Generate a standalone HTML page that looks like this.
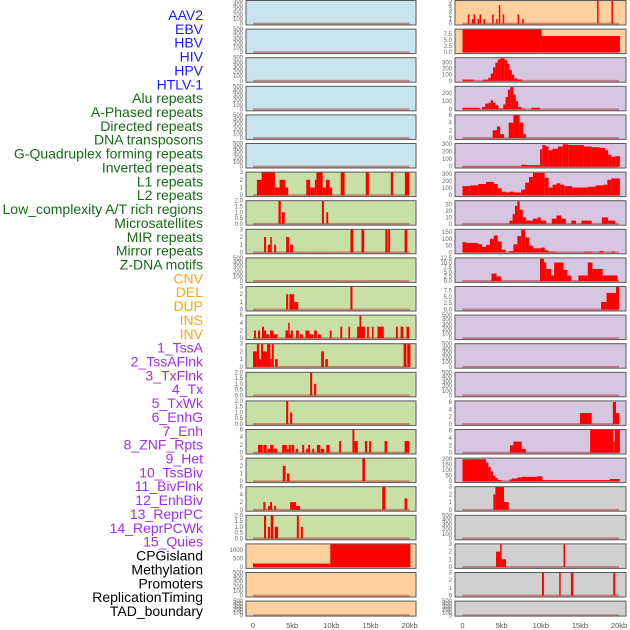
<!DOCTYPE html>
<html><head><meta charset="utf-8"><style>
body{margin:0;background:#fff;width:630px;height:630px;overflow:hidden}
svg{display:block;font-family:"Liberation Sans",sans-serif}
</style></head><body>
<svg id="chart" width="630" height="630" viewBox="0 0 630 630"></svg>
<script>
const labels=["AAV2","EBV","HBV","HIV","HPV","HTLV-1","Alu repeats","A-Phased repeats","Directed repeats","DNA transposons","G-Quadruplex forming repeats","Inverted repeats","L1 repeats","L2 repeats","Low_complexity A/T rich regions","Microsatellites","MIR repeats","Mirror repeats","Z-DNA motifs","CNV","DEL","DUP","INS","INV","1_TssA","2_TssAFlnk","3_TxFlnk","4_Tx","5_TxWk","6_EnhG","7_Enh","8_ZNF_Rpts","9_Het","10_TssBiv","11_BivFlnk","12_EnhBiv","13_ReprPC","14_ReprPCWk","15_Quies","CPGisland","Methylation","Promoters","ReplicationTiming","TAD_boundary"];
const labelGroups=[0,0,0,0,0,0,1,1,1,1,1,1,1,1,1,1,1,1,1,2,2,2,2,2,3,3,3,3,3,3,3,3,3,3,3,3,3,3,3,4,4,4,4,4];
const xTicks=[0,5,10,15,20];
const xTickLabels=["0","5kb","10kb","15kb","20kb"];
const alu=[[0.5,1.1,2],[1.1,2.8,3],[2.8,3.4,1],[3.4,4.1,2],[4.1,4.5,1],[6.8,7.3,2],[7.3,7.9,1],[7.9,8.1,2],[8.1,8.9,3],[8.9,9.3,1],[9.3,9.8,2],[9.8,10.1,1],[11.2,11.7,3],[14.4,14.8,3],[17.6,17.9,3],[19.4,19.95,3]];
const aphased=[[3.25,3.55,2],[3.7,4.05,1],[8.8,9.06,2],[9.36,9.6,1]];
const directed=[[1.41,1.67,2],[1.9,2.2,1],[2.2,2.4,2],[2.7,2.95,1],[4.23,4.6,2],[4.74,5.1,1],[12.44,12.8,3],[13.85,14.2,3],[16.9,17.2,3],[17.27,17.5,3],[19.36,19.7,3]];
const gquad=[[4.23,4.5,2],[4.65,5.25,2],[5.25,5.77,1],[12.44,12.7,3]];
const inverted=[[0.13,0.38,2],[0.64,0.9,2],[1.15,1.41,3],[1.41,1.67,2],[1.67,2.09,1],[2.18,2.6,2],[2.6,3.12,1],[4.15,4.49,2],[4.49,4.66,4],[4.66,4.83,1],[4.83,5.09,2],[5.5,5.85,2],[6.0,6.37,1],[6.7,7.2,2],[7.2,7.7,1],[7.8,8.16,2],[8.3,8.67,1],[9.8,10.04,2],[11.15,11.4,3],[12.18,12.4,3],[13.3,13.6,3],[13.6,13.8,6],[13.8,14.3,3],[14.57,14.8,3],[15.2,15.4,3],[15.9,16.7,3],[18.25,18.5,3],[18.85,19.2,3],[19.6,19.96,3]];
const l1=[[0,0.5,2],[0.5,0.77,3],[0.77,1.03,1],[1.03,1.28,3],[1.28,1.8,2],[1.8,2.22,3],[2.22,2.4,1],[2.4,2.65,3],[2.82,3.16,1],[8.7,9.06,2],[9.23,9.57,1],[19.23,19.6,3],[19.7,20.1,3]];
const l2=[[7.3,7.56,2],[7.8,8.08,1]];
const lowcx=[[4.23,4.5,2],[4.74,5.0,1]];
const microsat=[[0.64,1.24,2],[1.32,1.75,2],[1.84,2.18,1],[2.18,2.6,2],[2.6,3.12,1],[3.72,4.32,2],[4.32,4.57,1],[4.57,4.83,2],[4.91,5.26,2],[5.43,5.77,1],[6.28,6.54,2],[6.8,7.05,1],[7.05,7.3,2],[7.56,7.82,1],[8.16,8.6,2],[8.67,9.1,1],[9.36,9.79,2],[11.0,11.24,3],[12.7,12.95,6],[12.95,13.38,3],[14.3,14.57,3],[14.83,15.08,3],[16.8,17.14,3],[19.36,19.96,3]];
const mir=[[3.8,4.15,2],[4.32,4.66,1],[13.97,14.3,3]];
const mirror=[[1.32,1.58,2],[1.92,2.18,1],[2.18,2.44,2],[2.7,2.95,1],[4.74,5.5,2],[5.5,6.0,1],[16.5,16.9,6],[19.36,19.7,3]];
const zdna=[[1.41,1.67,2],[1.92,2.18,1],[2.26,2.6,2],[2.78,3.2,1],[5.6,5.85,2],[6.1,6.37,1]];
const cnv=[[0,9.87,200],[9.87,20.1,1340]];
const ins=[[0.68,0.8,2],[1.2,1.32,1],[1.41,1.53,2],[1.92,2.04,1],[2.17,2.29,2],[2.68,2.8,1],[3.79,3.91,2],[4.3,4.42,1],[4.64,4.76,4],[5.14,5.26,2],[7.04,7.16,2],[7.62,7.74,1],[17.19,17.31,5],[19.02,19.14,5]];
const inv=[[0,10.1,9.2],[10.1,20.1,6.6]];
const tssa=[[0,1.4,20],[2.6,3.3,20],[3.3,3.6,50],[3.6,3.9,120],[3.9,4.2,220],[4.2,4.5,300],[4.5,4.8,350],[4.8,5.4,370],[5.4,5.7,340],[5.7,6.0,280],[6.0,6.3,180],[6.3,6.6,100],[6.6,7.0,40],[7.0,7.6,20]];
const tssaflnk=[[0,2.2,20],[2.5,2.9,30],[2.9,3.3,70],[3.3,3.6,80],[3.6,3.9,110],[3.9,4.2,80],[4.2,4.6,50],[4.6,5.2,10],[5.2,5.5,60],[5.5,5.8,150],[5.8,6.1,240],[6.1,6.5,270],[6.5,6.8,180],[6.8,7.1,100],[7.1,7.5,30],[7.5,8.0,10],[8.8,9.9,20]];
const txflnk=[[3.85,4.4,2],[4.4,4.8,3],[4.8,5.3,1],[5.9,6.5,4],[6.5,7.3,6],[7.3,7.75,4],[7.75,8.1,1]];
const tx=[[0,7.5,3],[7.5,8.2,25],[8.2,9.9,20],[9.9,10.2,230],[10.2,10.6,290],[10.6,11.0,270],[11.0,11.5,220],[11.5,12.2,240],[12.2,12.8,270],[12.8,13.5,300],[13.5,15.5,290],[15.5,16.5,270],[16.5,17.5,260],[17.5,18.2,250],[18.2,18.6,220],[18.6,19.0,160],[19.0,19.5,130],[19.5,20.1,140]];
const txwk=[[0,1,130],[1,2,140],[2,3,160],[3,4,190],[4,4.5,160],[4.5,5,100],[5,5.5,50],[5.5,6,40],[6,6.5,50],[6.5,7.5,40],[7.5,8,80],[8,8.5,180],[8.5,9,260],[9,10.5,320],[10.5,11,250],[11,11.5,110],[11.5,12,150],[12,12.5,170],[12.5,13,150],[13,14,130],[14,16,110],[16,17,120],[17,18,140],[18,18.5,150],[18.5,19,220],[19,20.1,240]];
const enhg=[[6.0,6.4,5],[6.4,6.7,15],[6.7,7.0,28],[7.0,7.3,35],[7.3,7.7,22],[7.7,8.1,10],[8.1,9.0,5],[9.0,9.6,8],[9.6,10.0,10],[10.0,10.7,5],[11.4,12.0,8],[12.0,12.6,13],[12.6,13.2,8],[13.9,14.5,5],[15.2,16.5,5],[17.8,18.6,10],[18.6,19.5,5]];
const enh=[[0,0.5,75],[0.5,2,70],[2,2.5,60],[2.5,3,40],[3,3.5,55],[3.5,4,100],[4,4.5,125],[4.5,5,80],[5,5.5,20],[6,6.5,10],[6.5,7,60],[7,7.5,120],[7.5,8,165],[8,8.5,110],[8.5,9,50],[9,10,30],[10,10.5,35],[10.5,11,15],[11,12,5],[15.5,16.5,5],[17.5,18,10],[19,19.5,5]];
const znf=[[3.7,4.35,4],[4.35,4.9,2.5],[9.9,10.4,12],[10.4,10.7,10],[10.7,11.3,6.5],[11.3,11.7,3],[11.7,12.9,10],[12.9,13.4,6],[13.4,13.9,3],[14.8,16,3],[16,16.6,10],[16.6,17.9,6.5],[17.9,19.8,3]];
const het=[[17.7,18.4,3],[18.4,19.6,6.5],[19.6,20,9]];
const reprpc=[[15,16.5,3],[19.2,19.6,6],[19.6,20,3]];
const reprpcwk=[[6.06,6.5,2],[6.5,7.55,3],[7.55,8.1,1],[16.3,19.25,6.3],[19.25,19.45,3],[19.45,20.1,6.3]];
const quies=[[0,3,200],[3,3.3,170],[3.3,3.6,130],[3.6,3.9,90],[3.9,4.2,50],[4.2,4.5,30],[4.5,5,10],[6,6.3,15],[6.3,7,25],[7,7.5,35],[7.5,9.5,40],[9.5,10.2,45],[10.2,18.8,10],[18.8,20.1,20]];
const cpg=[[3.94,4.2,2],[4.2,5.3,3],[5.3,5.9,1]];
const promoters=[[4.28,4.8,2],[4.8,5.0,3],[5.0,5.55,1],[12.9,13.1,3]];
const reptiming=[[10.15,10.4,3],[12.35,12.5,3],[13.85,14.15,3],[19.25,19.5,3]];
const empty=[];
const panelData=[empty,empty,empty,empty,empty,empty,alu,aphased,directed,empty,gquad,inverted,l1,l2,lowcx,microsat,mir,mirror,zdna,cnv,empty,empty,ins,inv,tssa,tssaflnk,txflnk,tx,txwk,enhg,enh,znf,het,empty,empty,empty,reprpc,reprpcwk,quies,cpg,empty,promoters,reptiming,empty];
const panelMax=[500,500,500,500,500,500,3,2,3,500,3,6,3,2,2,6,3,6,2,1340,500,500,5,9.4,380,280,6,310,330,36,170,12.5,9,500,500,500,6.3,6.3,210,3,500,3,3,500];
const T500=[0,100,200,300,400,500],T3=[0,1,2,3],T2=[0,0.5,1,1.5,2],T6=[0,2,4,6],T75=[0,2.5,5,7.5];
const panelTicks=[T500,T500,T500,T500,T500,T500,T3,T2,T3,T500,T3,T6,T3,T2,T2,T6,T3,T6,T2,[0,500,1000],T500,T500,[0,1,2,3,4,5],T75,[0,100,200,300],[0,100,200],T6,[0,100,200,300],[0,100,200,300],[0,10,20,30],[0,50,100,150],[0,2.5,5,7.5,10,12.5],T75,T500,T500,T500,T6,T6,[0,50,100,150,200],T3,T500,T3,T3,T500];
const panelBg=["#c8e4ec","#c8e4ec","#c8e4ec","#c8e4ec","#c8e4ec","#c8e4ec","#c8e0a6","#c8e0a6","#c8e0a6","#c8e0a6","#c8e0a6","#c8e0a6","#c8e0a6","#c8e0a6","#c8e0a6","#c8e0a6","#c8e0a6","#c8e0a6","#c8e0a6","#fdd09e","#fdd09e","#fdd09e","#fdd09e","#fdd09e","#d6c6e1","#d6c6e1","#d6c6e1","#d6c6e1","#d6c6e1","#d6c6e1","#d6c6e1","#d6c6e1","#d6c6e1","#d6c6e1","#d6c6e1","#d6c6e1","#d6c6e1","#d6c6e1","#d6c6e1","#d0d0d0","#d0d0d0","#d0d0d0","#d0d0d0","#d0d0d0"];
const groupColors=["#1a1aff","#176b17","#ffa516","#a02ef0","#000000"];

const NS="http://www.w3.org/2000/svg";
const svg=document.getElementById('chart');
function mk(tag,attrs,parent){const e=document.createElementNS(NS,tag);for(const k in attrs)e.setAttribute(k,attrs[k]);(parent||svg).appendChild(e);return e;}
function fmt(v,ticks){const dec=ticks.some(t=>t%1!==0);return dec?v.toFixed(1):String(v);}

labels.forEach((t,i)=>{
  const e=mk('text',{x:203,y:15+i*13.86+5,'text-anchor':'end','font-size':'14',fill:groupColors[labelGroups[i]]});
  e.textContent=t;
  
  
});

for(let i=0;i<panelData.length;i++){
  const col=i<22?0:1,row=i%22;
  const px=col?455:246,pw=col?171:170;
  const py=0.5+row*28.6,ph=row===21?15:24.5;
  const x0=col?462.5:253,kb=7.83;
  const xs=v=>x0+v*kb;
  const mx=panelMax[i];
  const ys=v=>py+ph-(v+0.06*mx)/(1.06*mx)*ph;
  const g=mk('g',{});
  
  
  mk('rect',{x:px,y:py,width:pw,height:ph,fill:panelBg[i]},g);
  mk('line',{x1:xs(0),x2:xs(20),y1:ys(0),y2:ys(0),stroke:'#b02020','stroke-opacity':'0.45','stroke-width':'2'},g);
  panelData[i].forEach(s=>{
    const r=mk('rect',{x:xs(s[0]),y:ys(s[2]),width:Math.max(1.5,xs(s[1])-xs(s[0])),height:ys(0)-ys(s[2]),fill:'#ff0000'},g);
    
    
  });
  mk('rect',{x:px,y:py,width:pw,height:ph,fill:'none',stroke:'#5a5a5a','stroke-width':'1'},g);
  const tk=panelTicks[i];
  tk.forEach(v=>{
    const t=mk('text',{x:px-3,y:ys(v)+2,'text-anchor':'end','font-size':'6',fill:'#666'},g);
    t.textContent=fmt(v,tk);
  });
}
[0,1].forEach(col=>{
  const x0=col?462.5:253;
  xTicks.forEach((v,j)=>{
    const t=mk('text',{x:x0+v*7.83,y:628,'text-anchor':'middle','font-size':'7.5',fill:'#555'});
    t.textContent=xTickLabels[j];
    
    
  });
});
</script>
</body></html>
